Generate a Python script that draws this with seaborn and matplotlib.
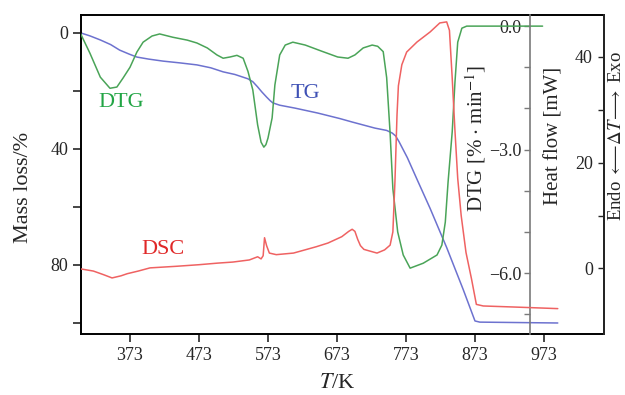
import numpy as np
import pandas as pd
import matplotlib.pyplot as plt
import seaborn as sns

sns.set_style("ticks")
plt.rcParams["font.family"] = ["Liberation Serif", "DejaVu Serif"]
plt.rcParams["mathtext.fontset"] = "stix"

# TG: mass loss (%) vs temperature (K)
tg_T = [302, 315, 330, 345, 358, 372, 383, 400, 421, 445, 470, 490, 508, 525, 544,
        551, 558, 564, 571, 576, 580, 590, 612, 645, 677, 695, 728, 745, 753, 758,
        763, 775, 790, 808, 832, 856, 873, 880, 993]
tg_loss = [0, 1.0, 2.4, 4.0, 5.9, 7.3, 8.3, 9.0, 9.7, 10.3, 11.0, 12.0, 13.4, 14.3, 15.8,
           16.8, 18.6, 20.3, 22.1, 23.3, 24.1, 24.9, 25.9, 27.6, 29.5, 30.7, 32.8, 33.6, 34.5, 35.5,
           37.5, 43, 51, 60.5, 74, 88.5, 99.3, 99.7, 100]

# DTG: %/min
dtg_T = [301, 315, 330, 344, 354, 363, 373, 383, 392, 405, 416, 435, 456, 470, 485,
         499, 508, 518, 528, 537, 544, 551, 558, 563, 567, 570, 573, 579, 583, 590,
         598, 609, 627, 651, 674, 689, 699, 711, 724, 732, 740, 745, 750, 754, 761,
         769, 779, 798, 818, 825, 830, 834, 840, 844, 848, 854, 861, 971]
dtg_rate = [-0.17, -0.66, -1.24, -1.51, -1.48, -1.26, -1.0, -0.63, -0.39, -0.24, -0.19, -0.27, -0.34, -0.41, -0.53,
            -0.70, -0.78, -0.75, -0.71, -0.78, -1.10, -1.55, -2.40, -2.82, -2.94, -2.88, -2.72, -2.23, -1.43, -0.70,
            -0.46, -0.39, -0.46, -0.61, -0.75, -0.78, -0.70, -0.53, -0.46, -0.49, -0.62, -1.25, -2.6, -3.95, -5.0,
            -5.56, -5.88, -5.76, -5.56, -5.32, -4.76, -3.79, -2.57, -1.36, -0.39, -0.05, 0, 0]

# DSC: heat flow (mW)
dsc_T = [302, 320, 335, 347, 360, 369, 385, 402, 440, 473, 500, 522, 546, 558, 563,
         566, 568, 571, 575, 585, 610, 643, 660, 680, 690, 695, 699, 703, 707, 712,
         720, 731, 742, 750, 754, 757, 760, 762, 767, 774, 789, 808, 822, 832, 836,
         840, 844, 848, 853, 860, 868, 875, 885, 930, 993]
dsc_flow = [-0.1, -0.5, -1.2, -1.8, -1.4, -1.0, -0.5, 0.1, 0.4, 0.7, 1.0, 1.2, 1.6, 2.2, 1.8,
            2.4, 5.8, 4.3, 2.9, 2.6, 2.9, 4.1, 4.8, 6.0, 7.0, 7.4, 7.0, 5.5, 4.3, 3.6,
            3.3, 2.9, 3.5, 4.4, 6.9, 16.4, 29.0, 34.5, 38.5, 40.9, 42.8, 44.7, 46.4, 46.6, 45.0,
            36, 26, 17, 10, 3, -2, -6.8, -7.1, -7.3, -7.6]

x_ticks = [373, 473, 573, 673, 773, 873, 973]
mass_ticks = [0, 20, 40, 60, 80, 100]
mass_labels = ["0", "", "40", "", "80", ""]
dtg_ticks = [0, -1, -2, -3, -4, -5, -6, -7]
dtg_labels = ["0.0", "", "", "\u22123.0", "", "", "\u22126.0", ""]
hf_ticks = [0, 10, 20, 30, 40]
hf_labels = ["0", "", "20", "", "40"]

green = "#4aa458"
blue = "#6d72cf"
red = "#ef6262"

fig, ax = plt.subplots(figsize=(6.25, 3.95), dpi=100)
fig.subplots_adjust(left=0.1296, right=0.9664, bottom=0.1544, top=0.962)
ax2 = ax.twinx()
ax3 = ax.twinx()

sns.lineplot(x=tg_T, y=tg_loss, ax=ax, color=blue, lw=1.1)
sns.lineplot(x=dtg_T, y=dtg_rate, ax=ax2, color=green, lw=1.1)
sns.lineplot(x=dsc_T, y=dsc_flow, ax=ax3, color=red, lw=1.1)

# main axis (mass loss)
ax.set_xlim(302, 1060)
ax.set_ylim(103.8, -6.2)
ax.set_xticks(x_ticks)
ax.set_yticks(mass_ticks, labels=mass_labels)
ax.tick_params(direction="out", length=6, width=1.2, labelsize=13, pad=3)
for s in ax.spines.values():
    s.set_visible(True)
    s.set_linewidth(1.4)
    s.set_color("black")
ax.set_xlabel(r"$T$/K", fontsize=16)
ax.xaxis.set_label_coords(0.49, -0.125)
ax.set_ylabel("Mass loss/%", fontsize=16)
ax.yaxis.set_label_coords(-0.092, 0.46)

# DTG axis: inner spine
ax2.set_ylim(-7.48, 0.27)
for k in ["top", "bottom", "right"]:
    ax2.spines[k].set_visible(False)
ax2.spines["left"].set_visible(True)
ax2.spines["left"].set_position(("axes", 0.8585))
ax2.spines["left"].set_color("#7a7a7a")
ax2.spines["left"].set_linewidth(1.2)
ax2.yaxis.tick_left()
ax2.yaxis.set_label_position("left")
ax2.set_yticks(dtg_ticks, labels=dtg_labels)
ax2.tick_params(axis="y", direction="out", length=4, width=1.0, color="#7a7a7a", labelsize=13, pad=2)
ax2.set_ylabel(r"DTG [% $\cdot$ min$^{-1}$]", fontsize=15)
ax2.yaxis.set_label_coords(0.778, 0.614)

# heat flow axis
ax3.set_ylim(-12.4, 47.9)
for k in ["top", "bottom", "left"]:
    ax3.spines[k].set_visible(False)
ax3.spines["right"].set_linewidth(1.4)
ax3.set_yticks(hf_ticks, labels=hf_labels)
ax3.tick_params(axis="y", direction="in", length=4, width=1.0, labelsize=13, pad=-8)
for t in ax3.get_yticklabels():
    t.set_horizontalalignment("right")
ax3.set_ylabel("Heat flow [mW]", fontsize=15)
ax3.yaxis.set_label_coords(0.887, 0.621)
ax3.text(1.024, 0.62, r"Endo $\longleftarrow\!\Delta T\!\longrightarrow$ Exo",
         transform=ax3.transAxes, rotation=90, ha="center", va="center", fontsize=13.5)

# curve names
ax.text(360, 24.1, "DTG", color="#22a545", fontsize=16, ha="center", va="center")
ax.text(627, 20.7, "TG", color="#3f51b5", fontsize=16, ha="center", va="center")
ax.text(421, 74.8, "DSC", color="#e02828", fontsize=16, ha="center", va="center")

plt.savefig("out.png", dpi=100)
